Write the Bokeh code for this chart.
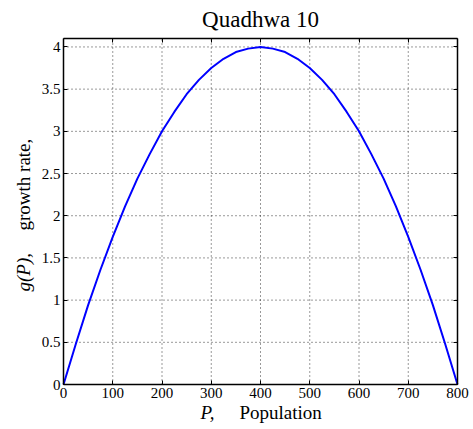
from bokeh.plotting import figure
from bokeh.models import Label, LinearAxis, Range1d, FixedTicker
from bokeh.embed import file_html
from bokeh.resources import INLINE

population = [0, 25, 50, 75, 100, 125, 150, 175, 200, 225, 250, 275, 300, 325, 350, 375, 400,
              425, 450, 475, 500, 525, 550, 575, 600, 625, 650, 675, 700, 725, 750, 775, 800]
growth = [0.0, 0.48, 0.94, 1.36, 1.75, 2.11, 2.44, 2.73, 3.0, 3.23, 3.44, 3.61, 3.75, 3.86, 3.94, 3.98, 4.0,
          3.98, 3.94, 3.86, 3.75, 3.61, 3.44, 3.23, 3.0, 2.73, 2.44, 2.11, 1.75, 1.36, 0.94, 0.48, 0.0]
x_ticks = [0, 100, 200, 300, 400, 500, 600, 700, 800]
y_ticks = [0, 0.5, 1, 1.5, 2, 2.5, 3, 3.5, 4]
x_box = (0, 800)
y_box = (0, 4.1)

FONT = "Liberation Serif"

# layout in canvas pixels: the frame covers the whole canvas, the axes box sits inside it
W, H = 470, 426
BOX_L, BOX_R, BOX_T, BOX_B = 63, 457, 38, 384
sx = (BOX_R - BOX_L) / (x_box[1] - x_box[0])
sy = (BOX_B - BOX_T) / (y_box[1] - y_box[0])
x_range = Range1d(x_box[0] - BOX_L / sx, x_box[1] + (W - BOX_R) / sx)
y_range = Range1d(y_box[0] - (H - BOX_B) / sy, y_box[1] + BOX_T / sy)

p = figure(width=W, height=H, output_backend="svg", toolbar_location=None,
           x_range=x_range, y_range=y_range, title_location=None,
           x_axis_location=None, y_axis_location=None,
           min_border=0, min_border_left=0, min_border_right=0,
           min_border_top=0, min_border_bottom=0)
p.outline_line_color = None
p.grid.visible = False

# dotted grid lines within the box
n_x, n_y = len(x_ticks), len(y_ticks)
p.segment(x0=x_ticks, y0=[y_box[0]] * n_x, x1=x_ticks, y1=[y_box[1]] * n_x,
          line_color="black", line_alpha=0.8, line_dash="1 3", line_width=1)
p.segment(x0=[x_box[0]] * n_y, y0=y_ticks, x1=[x_box[1]] * n_y, y1=y_ticks,
          line_color="black", line_alpha=0.8, line_dash="1 3", line_width=1)

p.line(population, growth, line_color="#0000ff", line_width=2)

def make_axis(ticks, loc, bounds, show_labels):
    a = LinearAxis(ticker=FixedTicker(ticks=ticks), fixed_location=loc, bounds=bounds,
                   major_tick_in=4, major_tick_out=0, minor_tick_line_color=None,
                   axis_line_color="black", axis_line_width=1.5,
                   major_tick_line_color="black", major_tick_line_width=1,
                   major_label_text_font=FONT, major_label_text_font_size="15px",
                   major_label_standoff=3)
    a.major_label_text_color = "black" if show_labels else None
    return a

xa = make_axis(x_ticks, y_box[0], x_box, True)
ya = make_axis(y_ticks, x_box[0], y_box, True)
ya.major_label_overrides = {0: "0", 1: "1", 2: "2", 3: "3", 4: "4"}
p.add_layout(xa, "below")
p.add_layout(ya, "left")
p.add_layout(make_axis(x_ticks, y_box[1], x_box, False), "above")
p.add_layout(make_axis(y_ticks, x_box[1], y_box, False), "right")

xmid = (x_box[0] + x_box[1]) / 2
ymid = (y_box[0] + y_box[1]) / 2

# title
p.add_layout(Label(x=xmid, y=y_box[1], y_offset=19, text="Quadhwa 10", text_font=FONT,
                   text_font_size="23px", text_align="center", text_baseline="alphabetic",
                   text_color="black"))
# x-axis label
p.add_layout(Label(x=xmid, y=y_box[0], y_offset=-28, text="P,", text_font=FONT,
                   text_font_style="italic", text_font_size="19px", text_align="left",
                   text_baseline="alphabetic", x_offset=-60, text_color="black"))
p.add_layout(Label(x=xmid, y=y_box[0], y_offset=-28, text="Population", text_font=FONT,
                   text_font_size="19px", text_align="left", text_baseline="alphabetic",
                   x_offset=-21, text_color="black"))
# y-axis label
p.add_layout(Label(x=x_box[0], x_offset=-40, y=ymid, y_offset=-80, text="g(P),", text_font=FONT,
                   text_font_style="italic", text_font_size="19px", text_align="left",
                   text_baseline="alphabetic", angle=1.5708, text_color="black"))
p.add_layout(Label(x=x_box[0], x_offset=-40, y=ymid, y_offset=-19, text="growth rate,", text_font=FONT,
                   text_font_size="19px", text_align="left", text_baseline="alphabetic",
                   angle=1.5708, text_color="black"))

open("out.html", "w").write(file_html(p, INLINE))
